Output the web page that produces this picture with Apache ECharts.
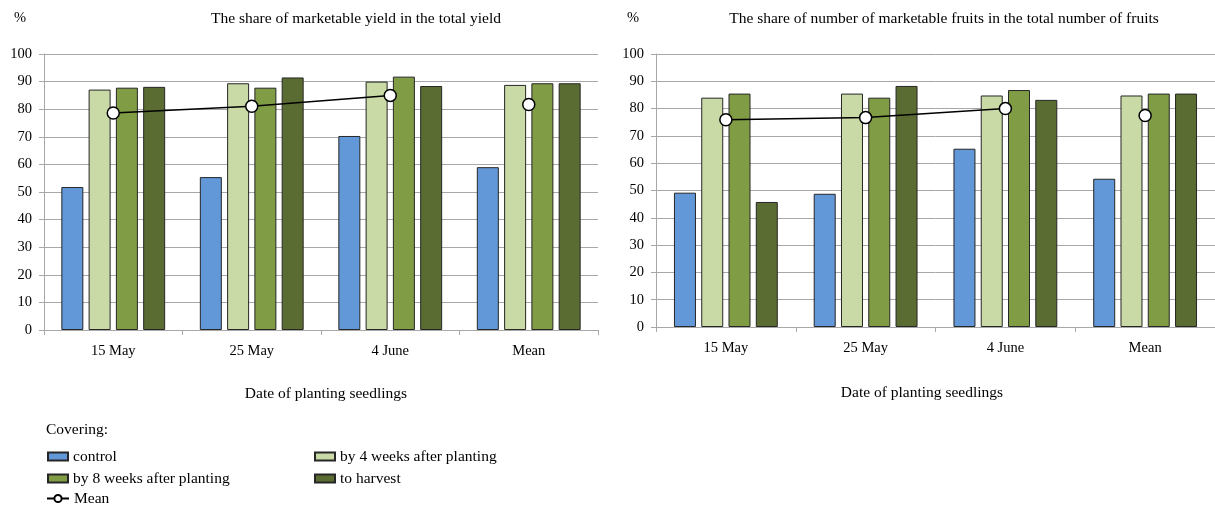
<!DOCTYPE html>
<html><head><meta charset="utf-8">
<script src="https://cdn.jsdelivr.net/npm/echarts@6/dist/echarts.min.js"></script>
<style>html,body{margin:0;padding:0;background:#fff}#c{width:1215px;height:506px}</style>
</head><body><div id="c"></div>
<script>
const categories = ['15 May', '25 May', '4 June', 'Mean'];
const seriesNames = ['control', 'by 4 weeks after planting', 'by 8 weeks after planting', 'to harvest'];
const meanName = 'Mean';
// Left chart: share of marketable yield in the total yield
const yieldControl = [51.8, 55.4, 70.3, 59.0];
const yield4w = [87.1, 89.4, 90.0, 88.8];
const yield8w = [87.8, 87.8, 91.8, 89.4];
const yieldHarvest = [88.1, 91.5, 88.4, 89.4];
const yieldMeanLine = [78.6, 81.1, 85.0, '-'];
const yieldMeanPoint = ['-', '-', '-', 81.7];
// Right chart: share of number of marketable fruits
const fruitsControl = [49.2, 48.8, 65.3, 54.3];
const fruits4w = [84.0, 85.5, 84.8, 84.8];
const fruits8w = [85.5, 84.0, 86.8, 85.5];
const fruitsHarvest = [45.8, 88.3, 83.2, 85.5];
const fruitsMeanLine = [75.9, 76.7, 80.0, '-'];
const fruitsMeanPoint = ['-', '-', '-', 77.5];
const yMin = 0, yMax = 100, yStep = 10;

const FONT = '"Liberation Serif", "Times New Roman", serif';
const colors = ['#6297D8', '#C9DAA6', '#809C45', '#5A6C31'];
const gridColor = '#A8A8A8';

function xAxis(i) {
  return {
    type: 'category', gridIndex: i, data: categories, boundaryGap: true,
    axisLine: { show: true, lineStyle: { color: gridColor, width: 1 } },
    axisTick: { show: true, length: 5, alignWithLabel: false, lineStyle: { color: gridColor } },
    axisLabel: { color: '#000', fontFamily: FONT, fontSize: 14.5, margin: 14 },
    splitLine: { show: false }
  };
}
function yAxis(i) {
  return {
    type: 'value', gridIndex: i, min: yMin, max: yMax, interval: yStep,
    axisLine: { show: true, lineStyle: { color: gridColor, width: 1 } },
    axisTick: { show: true, length: 5, lineStyle: { color: gridColor } },
    axisLabel: { color: '#000', fontFamily: FONT, fontSize: 14.5, margin: 12 },
    splitLine: { show: true, lineStyle: { color: gridColor, width: 1 } }
  };
}
function bars(i, arrs) {
  return arrs.map((d, k) => ({
    name: seriesNames[k], type: 'bar', xAxisIndex: i, yAxisIndex: i, data: d,
    barWidth: 22, barGap: '24%',
    itemStyle: { color: colors[k], borderColor: '#262626', borderWidth: 1 }
  }));
}
const meanStyle = {
  symbol: 'circle', symbolSize: 12,
  itemStyle: { color: '#fff', borderColor: '#000', borderWidth: 1.5 },
  lineStyle: { color: '#000', width: 1.5 }, z: 5
};
function means(i, line, point) {
  return [
    Object.assign({ name: meanName, type: 'line', xAxisIndex: i, yAxisIndex: i, data: line, showSymbol: true, connectNulls: false }, meanStyle),
    Object.assign({ name: meanName, type: 'line', xAxisIndex: i, yAxisIndex: i, data: point, showSymbol: true, connectNulls: false }, meanStyle)
  ];
}
function legend(name, left, top, extra) {
  return Object.assign({
    data: [{ name: name, icon: 'rect' }], left: left, top: top, padding: 0, itemGap: 0,
    itemWidth: 20, itemHeight: 8, selectedMode: false,
    textStyle: { color: '#000', fontFamily: FONT, fontSize: 15.5, lineHeight: 16 }
  }, extra || {});
}
function txt(text, x, y, size) {
  return { type: 'text', x: x, y: y, silent: true,
    style: { text: text, fill: '#000', fontFamily: FONT, fontSize: size || 15.5, align: 'center', verticalAlign: 'middle' } };
}

const chart = echarts.init(document.getElementById('c'), null, { renderer: 'canvas' });
chart.setOption({
  animation: false,
  backgroundColor: '#fff',
  grid: [
    { left: 44, top: 54, width: 554, height: 276, containLabel: false, outerBoundsMode: 'none' },
    { left: 656, top: 54, width: 559, height: 273, containLabel: false, outerBoundsMode: 'none' }
  ],
  xAxis: [xAxis(0), xAxis(1)],
  yAxis: [yAxis(0), yAxis(1)],
  legend: [
    legend(seriesNames[0], 47, 448.5),
    legend(seriesNames[1], 314, 448.5),
    legend(seriesNames[2], 47, 470.5),
    legend(seriesNames[3], 314, 470.5),
    legend(meanName, 46, 490.5, { data: [meanName], itemWidth: 22, itemHeight: 9 })
  ],
  graphic: [
    txt('%', 20, 18, 14.5),
    txt('%', 633, 18, 14.5),
    txt('The share of marketable yield in the total yield', 356, 19),
    txt('The share of number of marketable fruits in the total number of fruits', 944, 19),
    txt('Date of planting seedlings', 326, 394),
    txt('Date of planting seedlings', 922, 393),
    { type: 'text', x: 46, y: 430, silent: true,
      style: { text: 'Covering:', fill: '#000', fontFamily: FONT, fontSize: 15.5, align: 'left', verticalAlign: 'middle' } }
  ],
  series: [].concat(
    bars(0, [yieldControl, yield4w, yield8w, yieldHarvest]),
    means(0, yieldMeanLine, yieldMeanPoint),
    bars(1, [fruitsControl, fruits4w, fruits8w, fruitsHarvest]),
    means(1, fruitsMeanLine, fruitsMeanPoint)
  )
});
</script>
</body></html>
